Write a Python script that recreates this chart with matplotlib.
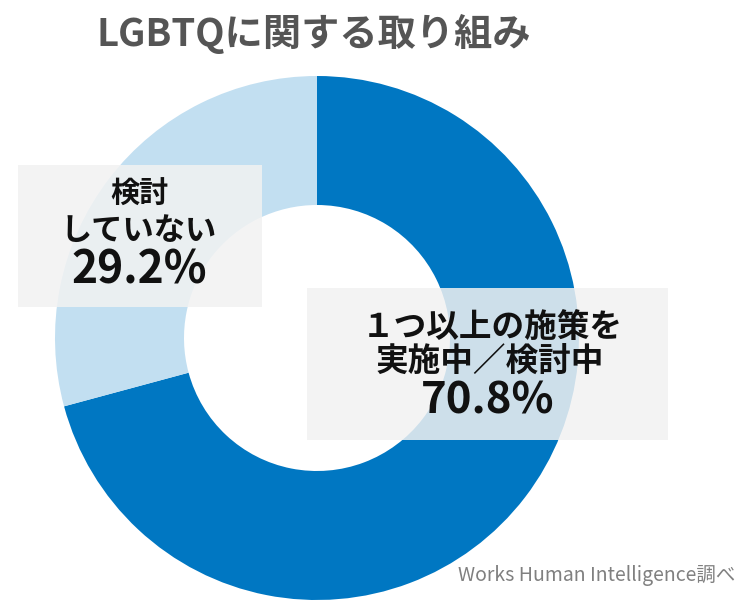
import matplotlib.pyplot as plt
from matplotlib.patches import Rectangle

plt.rcParams['font.family'] = ['Noto Sans CJK JP', 'DejaVu Sans']

labels = ["１つ以上の施策を\n実施中／検討中", "検討\nしていない"]
values = [70.8, 29.2]
colors = ["#0077C2", "#C2DFF1"]

H = 607
fig = plt.figure(figsize=(7.4, 6.07), dpi=100)
ax = fig.add_axes([0, 0, 1, 1])

ax.pie(values, colors=colors, startangle=90, counterclock=False,
       center=(317, H - 338), radius=262,
       wedgeprops=dict(width=129, linewidth=0))

# label boxes
ax.add_patch(Rectangle((18, H - 307), 244, 142, facecolor="#F2F2F2", alpha=0.85, linewidth=0, zorder=3))
ax.add_patch(Rectangle((307, H - 440), 361, 152, facecolor="#F2F2F2", alpha=0.85, linewidth=0, zorder=3))

# left label
top, bottom = labels[1].split("\n")
ax.text(139, H - 194, top, ha="center", va="center", fontsize=21, fontweight="bold", color="#111111", zorder=4)
ax.text(139, H - 231, bottom, ha="center", va="center", fontsize=22.5, fontweight="bold", color="#111111", zorder=4)
ax.text(139, H - 270, f"{values[1]}%", ha="center", va="center", fontsize=32, fontweight="bold", color="#111111", zorder=4)

# right label
line1, line2 = labels[0].split("\n")
ax.text(492, H - 327, line1, ha="center", va="center", fontsize=23.5, fontweight="bold", color="#111111", zorder=4)
ax.text(490, H - 362, line2, ha="center", va="center", fontsize=23.5, fontweight="bold", color="#111111", zorder=4)
ax.text(488, H - 400, f"{values[0]}%", ha="center", va="center", fontsize=31.5, fontweight="bold", color="#111111", zorder=4)

# title and source
ax.text(97, H - 34, "LGBTQに関する取り組み", ha="left", va="center", fontsize=27.5, fontweight="bold", color="#555555")
ax.text(735, H - 575, "Works Human Intelligence調べ", ha="right", va="center", fontsize=14, color="#808080")

ax.set_xlim(0, 740)
ax.set_ylim(0, H)
ax.set_aspect("equal")
ax.axis("off")

fig.savefig("out.png", dpi=100)
